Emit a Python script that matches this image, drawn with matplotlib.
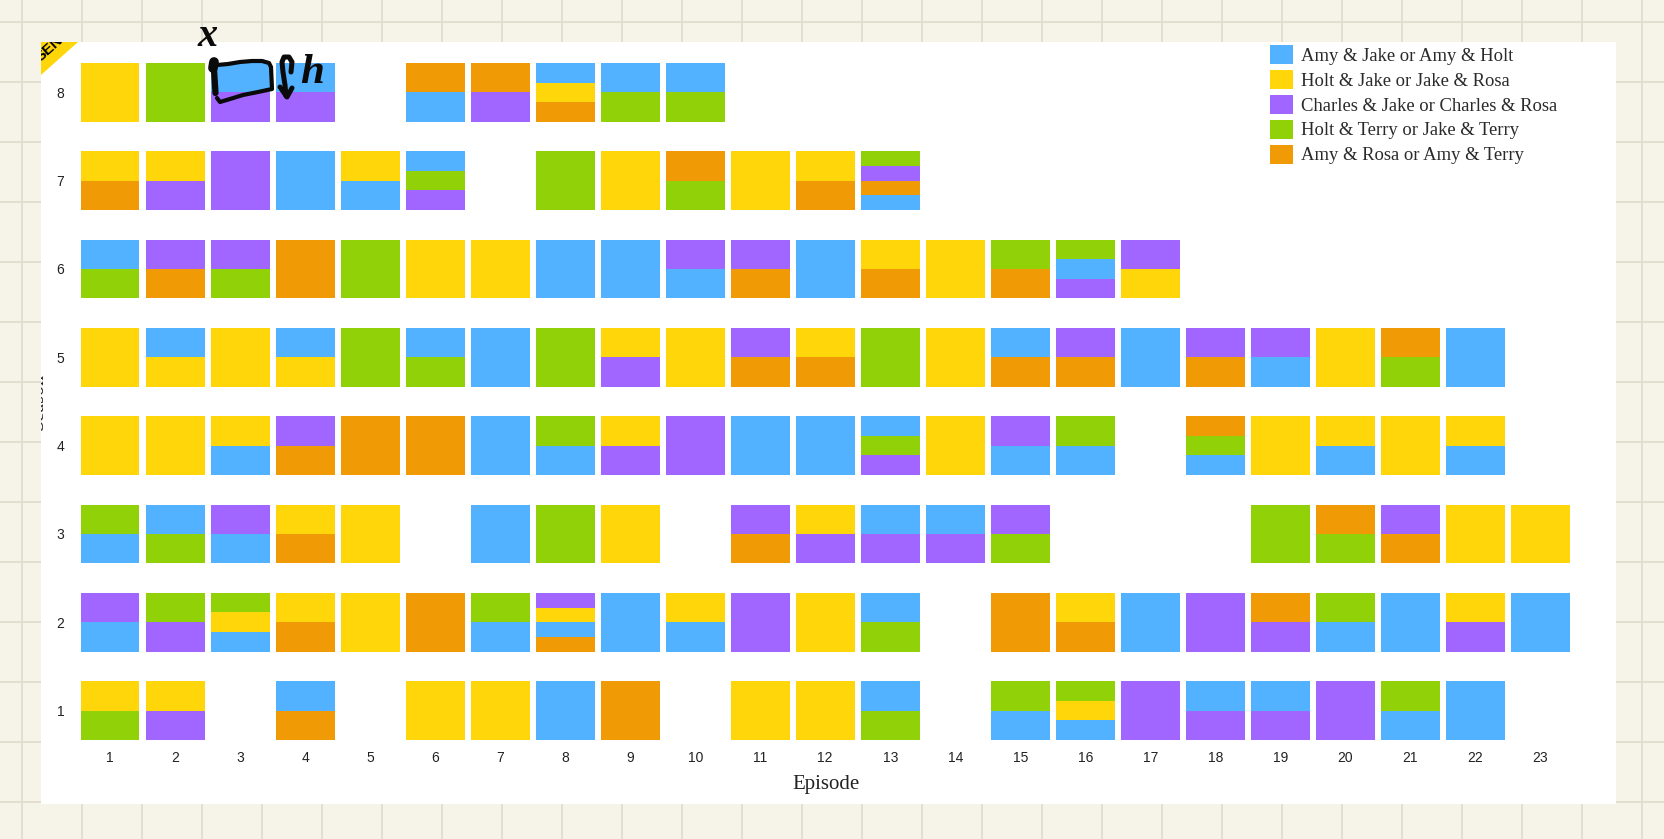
"""
Episode pairings by season - stacked tiles, one column per episode
Drawn on top of a notebook page with some hand written notes
"""

import matplotlib
matplotlib.use('Agg')
import matplotlib.pyplot as plt
from matplotlib.patches import Patch, Polygon, Rectangle
import numpy as np

# Tiles per episode, read top to bottom; '' means no tile for that episode
season_1 = ['YG', 'YP', '', 'BO', '', 'Y', 'Y', 'B', 'O', '', 'Y', 'Y', 'BG', '', 'GB', 'GYB', 'P', 'BP', 'BP', 'P', 'GB', 'B']
season_2 = ['PB', 'GP', 'GYB', 'YO', 'Y', 'O', 'GB', 'PYBO', 'B', 'YB', 'P', 'Y', 'BG', '', 'O', 'YO', 'B', 'P', 'OP', 'GB', 'B', 'YP', 'B']
season_3 = ['GB', 'BG', 'PB', 'YO', 'Y', '', 'B', 'G', 'Y', '', 'PO', 'YP', 'BP', 'BP', 'PG', '', '', '', 'G', 'OG', 'PO', 'Y', 'Y']
season_4 = ['Y', 'Y', 'YB', 'PO', 'O', 'O', 'B', 'GB', 'YP', 'P', 'B', 'B', 'BGP', 'Y', 'PB', 'GB', '', 'OGB', 'Y', 'YB', 'Y', 'YB']
season_5 = ['Y', 'BY', 'Y', 'BY', 'G', 'BG', 'B', 'G', 'YP', 'Y', 'PO', 'YO', 'G', 'Y', 'BO', 'PO', 'B', 'PO', 'PB', 'Y', 'OG', 'B']
season_6 = ['BG', 'PO', 'PG', 'O', 'G', 'Y', 'Y', 'B', 'B', 'PB', 'PO', 'B', 'YO', 'Y', 'GO', 'GBP', 'PY']
season_7 = ['YO', 'YP', 'P', 'B', 'YB', 'BGP', '', 'G', 'Y', 'OG', 'Y', 'YO', 'GPOB']
season_8 = ['Y', 'G', 'BP', 'BP', '', 'OB', 'OP', 'BYO', 'BG', 'BG']
seasons = [season_1, season_2, season_3, season_4, season_5, season_6, season_7, season_8]

pair_keys = ['B', 'Y', 'P', 'G', 'O']
pair_labels = ['Amy & Jake or Amy & Holt', 'Holt & Jake or Jake & Rosa',
               'Charles & Jake or Charles & Rosa', 'Holt & Terry or Jake & Terry',
               'Amy & Rosa or Amy & Terry']
pair_colors = ['#53B2FF', '#FFD60A', '#A066FF', '#90D207', '#F09A05']
episodes = np.arange(1, 24)

W, H = 1665, 839
PAPER = '#F6F3E8'
RULE = '#E2DED0'
INK = '#0A0A0A'
SERIF = 'Liberation Serif'
SANS = 'Liberation Sans'


def page_axes(fig, zorder):
    """Full figure axes in pixel coordinates"""
    ax = fig.add_axes([0, 0, 1, 1], zorder=zorder)
    ax.set_xlim(0, W)
    ax.set_ylim(H, 0)
    ax.axis('off')
    return ax


fig = plt.figure(figsize=(W / 100, H / 100), dpi=100, facecolor=PAPER)

# Notebook page and white sheet
page = page_axes(fig, 0)
for gx in range(22, W, 60):
    page.plot([gx, gx], [0, H], color=RULE, lw=1.4)
for gy in range(22, H, 60):
    page.plot([0, W], [gy, gy], color=RULE, lw=1.4)
sheet = Rectangle((41, 42), 1575, 762, facecolor='white', edgecolor='none', zorder=3)
page.add_patch(sheet)

flag = Polygon([(41, 42), (78, 42), (41, 75)], closed=True, facecolor='#FFD60A',
               edgecolor='none', zorder=4)
page.add_patch(flag)
# agg only clips text to a box, so the sheet edge does the cutting here
flag_text = page.text(50, 49, 'SEN', rotation=42, ha='center', va='center', fontsize=11,
                      weight='bold', color='black', family=SANS, zorder=5, clip_on=True)
flag_text.set_clip_path(sheet)

# the sheet cuts this label off, only the foot of the letters shows
season_text = page.text(38, 401, 'Season', rotation=90, ha='center', va='center', fontsize=14.5,
                        color='#222222', family=SERIF, zorder=5, clip_on=True)
season_text.set_clip_path(sheet)

# Chart axes, scaled so one episode is 65 px and one season 88.3 px
left, right, top, bottom = 74, 1580, 55, 745
ax = fig.add_axes([left / W, 1 - bottom / H, (right - left) / W, (bottom - top) / H], zorder=1)
ax.patch.set_alpha(0)
ax.set_xlim(1 + (left - 110.25) / 65, 1 + (right - 110.25) / 65)
ax.set_ylim(1 - (bottom - 710.5) / 88.3, 1 + (710.5 - top) / 88.3)

bar_w, bar_h = 0.9, 0.665
color_of = dict(zip(pair_keys, pair_colors))
for s, row in enumerate(seasons, start=1):
    for ep, tiles in zip(episodes, row):
        if not tiles:
            continue
        share = bar_h / len(tiles)
        for i, key in enumerate(tiles):
            ax.bar(ep, share, width=bar_w, bottom=s + bar_h / 2 - share * (i + 1),
                   color=color_of[key], linewidth=0)

ax.set_xticks(episodes)
ax.set_yticks(range(1, 9))
ax.tick_params(axis='x', length=0, pad=4, labelsize=10, labelcolor='#222222')
ax.tick_params(axis='y', length=0, pad=7, labelsize=10, labelcolor='#222222')
for lab in ax.get_xticklabels() + ax.get_yticklabels():
    lab.set_family(SANS)
for spine in ax.spines.values():
    spine.set_visible(False)

fig.text(826 / W, 1 - 784 / H, 'Episode', ha='center', va='center', fontsize=15,
         color='#222222', family=SERIF)

handles = [Patch(facecolor=c, edgecolor='none', label=l) for c, l in zip(pair_colors, pair_labels)]
fig.legend(handles=handles, loc='upper left', bbox_to_anchor=(1270 / W, 1 - 45 / H),
           bbox_transform=fig.transFigure, frameon=False, borderpad=0, borderaxespad=0,
           handlelength=1.25, handleheight=1.18, handletextpad=0.42,
           labelspacing=0.28, labelcolor='#2A2A2A', prop={'family': SERIF, 'size': 13.4})

# Hand written notes on top of everything
ink = page_axes(fig, 2)
pen = dict(color=INK, solid_capstyle='round', solid_joinstyle='round')
box_x = [217, 228, 240, 252, 262, 269, 271, 272, 258, 243, 230, 220, 217]
box_y = [65, 64, 62, 61, 61, 63, 67, 89, 92, 95, 99, 102, 98]
ink.plot(box_x, box_y, lw=3, **pen)
ink.plot([213.5, 215.5], [62, 93], lw=4.5, **pen)
ink.plot([214, 213], [62, 68], lw=7, **pen)
ink.plot([291, 292, 289, 284, 282, 283, 285, 286], [72, 62, 57, 57, 62, 72, 85, 96], lw=3.6, **pen)
ink.plot([280, 287, 292], [87, 97, 88], lw=3.6, **pen)
ink.text(208, 36, 'x', ha='center', va='center', fontsize=29, style='italic', weight='bold',
         color=INK, family=SERIF)
ink.text(312, 73, 'h', ha='center', va='center', fontsize=31, style='italic', weight='bold',
         color=INK, family=SERIF)

plt.savefig('out.png', dpi=100, facecolor=PAPER)
plt.close()
